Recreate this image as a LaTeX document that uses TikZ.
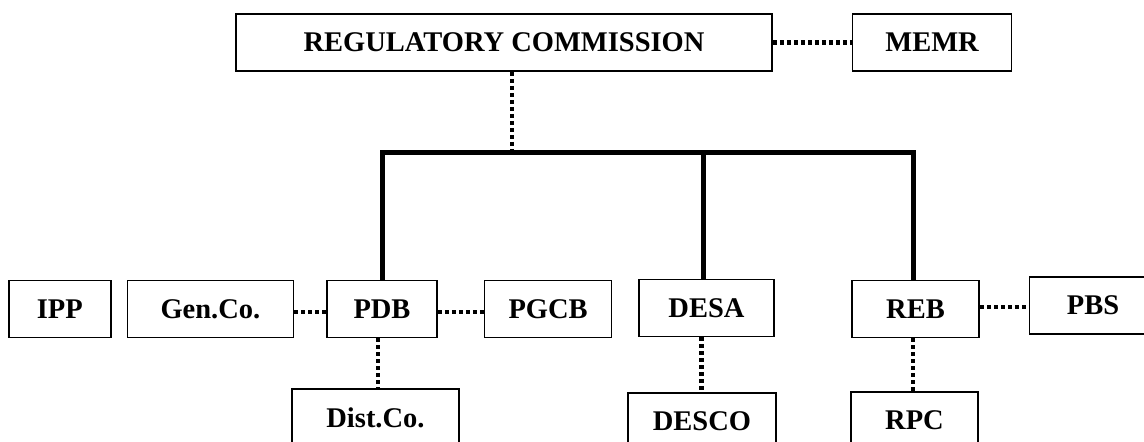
\documentclass[tikz,border=0pt]{standalone}
\usepackage{fontspec}
\setmainfont{Liberation Serif}
\usetikzlibrary{positioning}

\tikzset{
  unit/.style={draw, line width=1.6pt, minimum height=57pt, inner sep=0pt,
    font=\fontsize{28.5}{34}\selectfont\bfseries},
  dotline/.style={line width=4.5pt, dash pattern=on 4pt off 3pt},
  trunk/.style={line width=5pt, line join=miter}
}

\begin{document}
\begin{tikzpicture}[x=1pt, y=-1pt]
  \useasboundingbox (0,0) rectangle (1144,442);
  \clip (0,0) rectangle (1144,442);
  \begin{scope}[every node/.style={unit}]
    \node (RC) [minimum width=536pt] at (504,42.5) {REGULATORY COMMISSION};
    \node (MEMR) [minimum width=159pt, right=79pt of RC] {MEMR};
    \node (PDB) [minimum width=110pt] at (382,309) {PDB};
    \node (GenCo) [minimum width=166pt, left=32pt of PDB] {Gen.Co.};
    \node (IPP) [minimum width=102pt, left=15pt of GenCo] {IPP};
    \node (PGCB) [minimum width=127pt, right=46pt of PDB] {PGCB};
    \node (DESA) [minimum width=135pt] at (706.5,308) {DESA};
    \node (REB) [minimum width=127pt] at (915.5,309) {REB};
    \node (PBS) [minimum width=127pt, right=49pt of REB, yshift=3.5pt] {PBS};
    \node (DistCo) [minimum width=167pt, below=50pt of PDB, xshift=-6.5pt] {Dist.Co.};
    \node (DESCO) [minimum width=148pt, below=55pt of DESA, xshift=-4.5pt] {DESCO};
    \node (RPC) [minimum width=127pt, below=53pt of REB, xshift=-1pt] {RPC};
  \end{scope}
  \coordinate (bus) at (512,152.7);
  % solid lines
  \draw[trunk] (PDB.north) |- (bus) -| ([xshift=-2.5pt]REB.north);
  \draw[trunk] ([xshift=-3.5pt]DESA.north) -- ([xshift=-3.5pt]DESA.north |- bus);
  % dotted links
  \draw[dotline] (RC.east) -- (MEMR.west);
  \draw[dotline] (bus |- RC.south) -- ([yshift=2.5pt]bus);
  \draw[dotline] ([yshift=-3pt]GenCo.east) -- ([yshift=-3pt]PDB.west);
  \draw[dotline] ([yshift=-3pt]PDB.east) -- ([yshift=-3pt]PDB.east -| PGCB.west);
  \draw[dotline] ([yshift=2pt]REB.east) -- ([yshift=2pt]REB.east -| PBS.west);
  \draw[dotline] ([xshift=-4pt]PDB.south) -- ([xshift=-4pt]PDB.south |- DistCo.north);
  \draw[dotline] ([xshift=-5pt]DESA.south) -- ([xshift=-5pt]DESA.south |- DESCO.north);
  \draw[dotline] ([xshift=-2.5pt]REB.south) -- ([xshift=-2.5pt]REB.south |- RPC.north);
\end{tikzpicture}
\end{document}
